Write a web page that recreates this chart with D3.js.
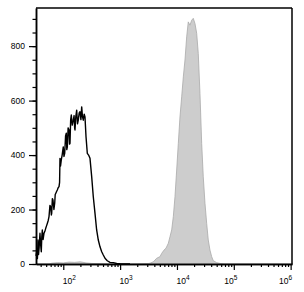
<!DOCTYPE html>
<html>
<head>
<meta charset="utf-8">
<script src="https://cdn.jsdelivr.net/npm/d3@7"></script>
<style>
  body { margin: 0; background: #fff; }
  text { font-family: Arial, 'Liberation Sans', sans-serif; fill: #000; }
</style>
</head>
<body>
<div id="chart"></div>
<script>
// black (unstained) histogram: log10 intensity and counts
let blackLog = [1.520, 1.532, 1.545, 1.555, 1.565, 1.575, 1.590, 1.602, 1.613, 1.622,
  1.631, 1.645, 1.661, 1.676, 1.691, 1.705, 1.719, 1.735, 1.749, 1.765,
  1.779, 1.790, 1.796, 1.808, 1.819, 1.835, 1.849, 1.858, 1.867, 1.880,
  1.895, 1.910, 1.925, 1.935, 1.942, 1.952, 1.965, 1.980, 2.000, 2.012,
  2.025, 2.040, 2.053, 2.062, 2.071, 2.085, 2.101, 2.110, 2.118, 2.130,
  2.141, 2.158, 2.176, 2.190, 2.200, 2.206, 2.220, 2.236, 2.250, 2.264,
  2.280, 2.294, 2.310, 2.324, 2.338, 2.352, 2.368, 2.382, 2.400, 2.423,
  2.445, 2.470, 2.500, 2.528, 2.558, 2.587, 2.616, 2.646, 2.676, 2.704,
  2.734, 2.774, 2.822, 2.880, 2.940, 3.000, 3.174]
let blackCount = [30, 45, 20, 88, 35, 60, 113, 70, 45, 100,
  125, 90, 113, 120, 131, 140, 149, 160, 174, 215,
  210, 180, 186, 240, 235, 200, 223, 255, 259, 265,
  272, 280, 284, 300, 388, 360, 382, 400, 430, 395,
  406, 470, 480, 420, 430, 500, 492, 440, 443, 530,
  547, 510, 528, 545, 500, 492, 540, 565, 515, 528,
  555, 559, 530, 577, 540, 528, 550, 540, 467, 406,
  400, 388, 320, 247, 186, 125, 88, 63, 45, 33,
  21, 12, 6, 5, 2, 1, 0]

// gray (stained) histogram
let grayLog = [1.520, 1.750, 1.800, 1.900, 2.000, 2.100, 2.200, 2.300, 2.400, 2.500,
  2.700, 3.000, 3.300, 3.500, 3.526, 3.584, 3.643, 3.702, 3.731, 3.772,
  3.807, 3.848, 3.877, 3.907, 3.936, 3.965, 3.995, 4.024, 4.053, 4.083,
  4.112, 4.141, 4.171, 4.199, 4.229, 4.259, 4.287, 4.317, 4.347, 4.375,
  4.405, 4.435, 4.463, 4.493, 4.523, 4.551, 4.581, 4.611, 4.639, 4.699,
  4.757, 4.828, 6.024]
let grayCount = [0, 0, 3, 5, 4, 7, 6, 8, 4, 2,
  1, 0, 1, 2, 3, 8, 21, 27, 39, 51,
  58, 76, 100, 125, 174, 247, 345, 443, 540, 614,
  687, 749, 834, 889, 877, 895, 902, 883, 847, 773,
  626, 443, 320, 223, 149, 88, 51, 27, 12, 5,
  2, 0, 0]

let yTicks = [0, 200, 400, 600, 800]
let yMinorTicks = d3.range(0, 950, 50)
let xTicks = [1e2, 1e3, 1e4, 1e5, 1e6]
let xExponents = ['2', '3', '4', '5', '6']

let margin = { top: 8, left: 36, right: 12, bottom: 28 }
let width = 304 - margin.left - margin.right
let height = 292 - margin.top - margin.bottom

let svg = d3
  .select('#chart')
  .append('svg')
  .attr('width', 304)
  .attr('height', 292)
  .append('g')
  .attr('transform', 'translate(' + margin.left + ',' + margin.top + ')')

let xPositionScale = d3
  .scaleLog()
  .domain([Math.pow(10, 1.52), Math.pow(10, 6.024)])
  .range([0, width])

let yPositionScale = d3
  .scaleLinear()
  .domain([0, 940])
  .range([height, 0])

let black = blackLog.map((l, i) => ({ x: Math.pow(10, l), y: blackCount[i] }))
let gray = grayLog.map((l, i) => ({ x: Math.pow(10, l), y: grayCount[i] }))

let area = d3
  .area()
  .x(d => xPositionScale(d.x))
  .y0(height)
  .y1(d => yPositionScale(d.y))

let line = d3
  .line()
  .x(d => xPositionScale(d.x))
  .y(d => yPositionScale(d.y))

svg
  .append('path')
  .datum(gray)
  .attr('d', area)
  .attr('fill', '#cdcdcd')
  .attr('stroke', '#a9a9a9')
  .attr('stroke-width', 0.8)

svg
  .append('path')
  .datum(black)
  .attr('d', line)
  .attr('fill', 'none')
  .attr('stroke', '#000')
  .attr('stroke-width', 1.4)
  .attr('stroke-linejoin', 'round')

// minor ticks
let xMinor = []
for (let e = 1; e <= 6; e++) {
  for (let m = 2; m <= 9; m++) {
    let v = m * Math.pow(10, e)
    if (v > xPositionScale.domain()[0] && v < xPositionScale.domain()[1]) xMinor.push(v)
  }
}

svg
  .append('g')
  .attr('class', 'axis x-minor')
  .attr('transform', 'translate(0,' + height + ')')
  .call(d3.axisBottom(xPositionScale).tickValues(xMinor).tickSize(3).tickSizeOuter(0).tickFormat(''))

svg
  .append('g')
  .attr('class', 'axis y-minor')
  .call(d3.axisLeft(yPositionScale).tickValues(yMinorTicks).tickSize(3.5).tickSizeOuter(0).tickFormat(''))

let yAxis = d3.axisLeft(yPositionScale).tickValues(yTicks).tickSize(7).tickSizeOuter(0).tickPadding(4)
svg
  .append('g')
  .attr('class', 'axis y-axis')
  .call(yAxis)

let xAxis = d3.axisBottom(xPositionScale).tickValues(xTicks).tickSize(6).tickSizeOuter(0).tickFormat('')
svg
  .append('g')
  .attr('class', 'axis x-axis')
  .attr('transform', 'translate(0,' + height + ')')
  .call(xAxis)

svg.selectAll('.axis path').attr('stroke', '#000').attr('stroke-width', 1.5)
svg.selectAll('.axis line').attr('stroke', '#000').attr('stroke-width', 1.2)
svg.selectAll('.y-axis text').style('font-size', '8.5px').style('font-family', 'Arial, Liberation Sans, sans-serif')

// x labels with superscripts
let labels = svg
  .selectAll('.x-label')
  .data(xTicks)
  .enter()
  .append('text')
  .attr('class', 'x-label')
  .attr('x', d => xPositionScale(d) + (d >= 1e6 ? -5 : d >= 1e5 ? -3 : 6))
  .attr('y', height + 20)
  .attr('text-anchor', 'middle')
  .style('font-size', '8.5px')

labels.append('tspan').text('10')
labels
  .append('tspan')
  .attr('dy', -4)
  .style('font-size', '6.5px')
  .text((d, i) => xExponents[i])

// frame on top and right
svg
  .append('line')
  .attr('x1', 0)
  .attr('x2', width)
  .attr('y1', 0)
  .attr('y2', 0)
  .attr('stroke', '#000')
  .attr('stroke-width', 1.5)

svg
  .append('line')
  .attr('x1', width)
  .attr('x2', width)
  .attr('y1', 0)
  .attr('y2', height)
  .attr('stroke', '#000')
  .attr('stroke-width', 1.5)
</script>
</body>
</html>
